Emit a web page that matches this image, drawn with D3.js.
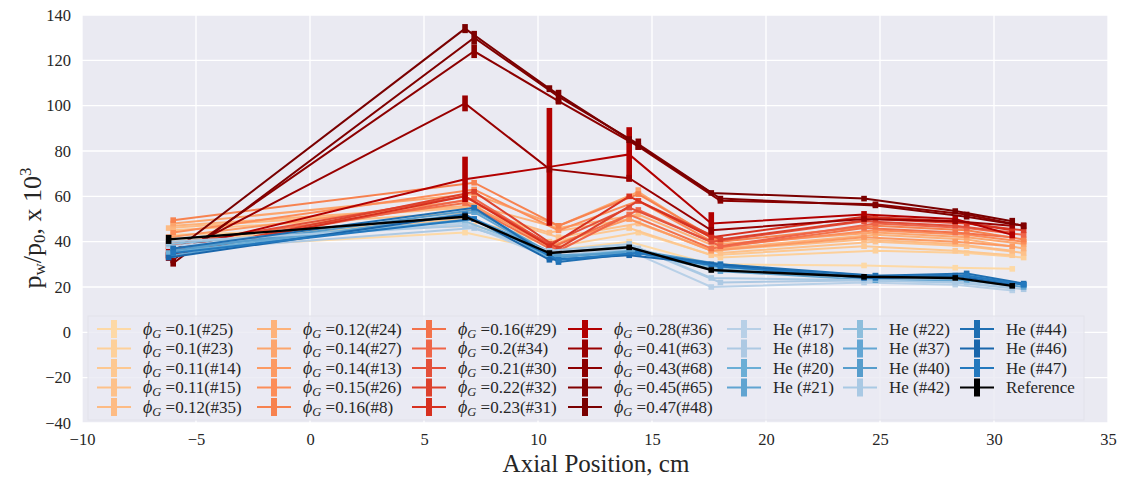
<!DOCTYPE html>
<html>
<head>
<meta charset="utf-8">
<script src="https://cdn.jsdelivr.net/npm/d3@7"></script>
<style>
  body { margin: 0; background: #fff; }
  text { font-family: "Liberation Serif", "DejaVu Serif", serif; fill: #262626; }
</style>
</head>
<body>
<div id="chart"></div>
<script>

// axial positions of the taps (two slightly shifted sets, as in the figure)
var positionsA = [-6.2, 6.8, 10.5, 14.0, 17.6, 24.3, 28.3, 30.8];
var positionsB = [-6.0, 7.2, 10.9, 14.4, 18.0, 24.8, 28.8, 31.3];

var seriesLabels = [
  '0.1(#25)', '0.1(#23)', '0.11(#14)', '0.11(#15)', '0.12(#35)',
  '0.12(#24)', '0.14(#27)', '0.14(#13)', '0.15(#26)', '0.16(#8)',
  '0.16(#29)', '0.2(#34)', '0.21(#30)', '0.22(#32)', '0.23(#31)',
  '0.28(#36)', '0.41(#63)', '0.43(#68)', '0.45(#65)', '0.47(#48)',
  'He (#17)', 'He (#18)', 'He (#20)', 'He (#21)',
  'He (#22)', 'He (#37)', 'He (#40)', 'He (#42)',
  'He (#44)', 'He (#46)', 'He (#47)', 'Reference'
];
var isPhi = [1,1,1,1,1, 1,1,1,1,1, 1,1,1,1,1, 1,1,1,1,1, 0,0,0,0, 0,0,0,0, 0,0,0,0];
var positionSet = [0,1,0,1,0, 1,1,0,1,1, 0,1,0,1,0, 0,0,1,1,0, 0,1,0,1, 0,1,1,0, 1,0,1,0];

var seriesValues = [
  [37, 44, 36, 40, 30, 29.5, 28.5, 28],
  [43, 47, 38, 44, 33, 36, 35, 33],
  [40, 50, 40, 46, 34, 38, 36, 34],
  [45, 53, 42, 48, 35, 40, 38, 35],
  [46, 55, 44, 50, 36, 41, 39, 36],
  [47, 56, 46, 52, 37, 43, 41, 37],
  [48, 61, 47, 62, 39, 44, 42, 39],
  [42, 58, 38, 50, 36, 42, 40, 38],
  [44, 63, 45, 58, 38, 45, 43, 40],
  [49.5, 66, 47, 61, 40, 47, 45, 41],
  [39, 57, 37, 52, 37, 46, 44, 42],
  [36, 59, 36, 54, 38, 48, 46, 43],
  [38, 60, 39, 55, 40, 49, 47, 44],
  [35, 62, 37, 58, 41, 50, 48, 45],
  [34, 60, 38, 60, 42, 51, 49, 45],
  [36, 67.5, 73, 78.5, 48, 52, 50, 43],
  [33, 101, 72, 68, 45, 50, 49, 47],
  [32, 124, 102, 82, 58, 56.5, 52, 47],
  [30.5, 130, 104, 83, 59, 56, 51, 47],
  [34, 134, 107.5, 85, 61.5, 59, 53.5, 49],
  [38, 48, 33, 36, 20, 22, 21, 18.5],
  [36, 46, 34, 37, 22, 23, 22, 19],
  [35, 52, 33, 36, 29, 24, 25, 21],
  [37, 50, 34, 35, 27, 23, 23, 20],
  [39, 49, 35, 38, 28, 24, 24, 21],
  [34, 53, 32, 35, 29, 25, 25, 21],
  [36, 54, 33, 36, 30, 24, 25, 21],
  [40, 47, 36, 39, 24, 23, 22, 19.5],
  [37, 55, 31, 35, 30, 25, 26, 21.5],
  [33, 52, 32, 34, 30, 24, 25, 21],
  [35, 50, 32, 35, 29, 24, 25, 21],
  [41, 51, 35, 37.5, 27.5, 24.5, 24, 20.5]
];

// half-widths of the error bars, most are small
var smallErr = [1, 1, 1, 1, 1, 1, 1, 1];
var seriesErrors = seriesValues.map(function() { return smallErr; });
seriesErrors[15] = [1.5, 10, 26, 12, 5, 1.5, 1.5, 1.5];
seriesErrors[16] = [1.5, 3.5, 1.5, 1.5, 1.5, 1, 1, 1];
seriesErrors[17] = [1.5, 3, 1.5, 1.5, 1, 1, 1, 1];
seriesErrors[18] = [1.5, 3, 3, 2.5, 1, 1, 1, 1.5];
seriesErrors[19] = [1.5, 2, 1.5, 1.5, 1, 1, 1, 1.5];
seriesErrors[6] = [1, 2, 1, 2, 1, 1, 1, 1];
seriesErrors[31] = [2, 1.5, 1, 1, 1, 1, 1, 1];

var seriesColors = [
  '#fdd9a6', '#fdd09a', '#fdc891', '#fdc18a', '#fdbb84',
  '#fdb27a', '#fca56d', '#fc9a63', '#fc8d59', '#f7824f',
  '#f3724b', '#ef6548', '#e4503a', '#dd412c', '#d7301f',
  '#b30000', '#990000', '#8c0000', '#800000', '#7a0000',
  '#b8d0e7', '#adc9e3', '#6aaed6', '#60a4d1',
  '#8dbedc', '#63a6d3', '#569dcc', '#a9c9e4',
  '#1f6fb2', '#1966ab', '#2378bd', '#000000'
];

var xTickValues = [-10, -5, 0, 5, 10, 15, 20, 25, 30, 35];
var yTickValues = [-40, -20, 0, 20, 40, 60, 80, 100, 120, 140];

var W = 1122, H = 477;
var svg = d3.select("#chart").append("svg")
  .attr("width", W).attr("height", H);

var x = d3.scaleLinear().domain([-10, 35]).range([82, 1108]);
var y = d3.scaleLinear().domain([-40, 140]).range([423, 15]);

svg.append("rect")
  .attr("x", x(-10)).attr("y", y(140))
  .attr("width", x(35) - x(-10)).attr("height", y(-40) - y(140))
  .attr("fill", "#eaeaf2");

// grid
svg.append("g").selectAll("line").data(xTickValues).join("line")
  .attr("x1", d => x(d)).attr("x2", d => x(d))
  .attr("y1", y(140)).attr("y2", y(-40))
  .attr("stroke", "#fff").attr("stroke-width", 1.3);
svg.append("g").selectAll("line").data(yTickValues).join("line")
  .attr("x1", x(-10)).attr("x2", x(35))
  .attr("y1", d => y(d)).attr("y2", d => y(d))
  .attr("stroke", "#fff").attr("stroke-width", 1.3);

// axes (no spines, seaborn style)
var xAxis = svg.append("g")
  .attr("transform", "translate(0," + (y(-40) + 4) + ")")
  .call(d3.axisBottom(x).tickValues(xTickValues).tickSize(0).tickFormat(d => d < 0 ? "\u2212" + (-d) : d));
var yAxis = svg.append("g")
  .attr("transform", "translate(" + (x(-10) - 8) + ",0)")
  .call(d3.axisLeft(y).tickValues(yTickValues).tickSize(0).tickFormat(d => d < 0 ? "\u2212" + (-d) : d));
[xAxis, yAxis].forEach(function(a) {
  a.select(".domain").remove();
  a.selectAll("text").attr("font-size", 16.5).attr("fill", "#262626")
    .style("font-family", '"Liberation Serif", serif');
});
xAxis.selectAll("text").attr("dy", "0.9em");

// series
var line = d3.line();
var plot = svg.append("g");
seriesValues.forEach(function(vals, i) {
  var xs = positionSet[i] ? positionsB : positionsA;
  var pts = vals.map((v, j) => [x(xs[j]), y(v)]);
  var g = plot.append("g").attr("class", "series");
  g.append("path")
    .attr("d", line(pts))
    .attr("fill", "none")
    .attr("stroke", seriesColors[i])
    .attr("stroke-width", i == 31 ? 2.4 : 2);
  g.selectAll("rect").data(vals).join("rect")
    .attr("x", (v, j) => x(xs[j]) - 2.8)
    .attr("width", 5.6)
    .attr("y", (v, j) => Math.min(y(v + seriesErrors[i][j]), y(v) - 2.8))
    .attr("height", (v, j) => Math.max(y(v - seriesErrors[i][j]) - y(v + seriesErrors[i][j]), 5.6))
    .attr("fill", seriesColors[i]);
});

// legend
var legend = svg.append("g");
legend.append("rect")
  .attr("x", 88).attr("y", 316).attr("width", 996).attr("height", 104)
  .attr("fill", "#eaeaf2").attr("fill-opacity", 0.8)
  .attr("stroke", "#e2e2ea").attr("stroke-width", 1);

var colHandleX = [97, 257, 412, 568, 727, 843, 960];
var colCounts = [5, 5, 5, 5, 4, 4, 4];
var rowY = [329, 348.5, 368, 387.5, 407];
var k = 0;
colCounts.forEach(function(n, c) {
  for (var r = 0; r < n; r++, k++) {
    var hx = colHandleX[c], hy = rowY[r];
    var lg = legend.append("g");
    lg.append("line")
      .attr("x1", hx).attr("x2", hx + 34).attr("y1", hy).attr("y2", hy)
      .attr("stroke", seriesColors[k]).attr("stroke-width", 2);
    lg.append("rect")
      .attr("x", hx + 17 - 3).attr("y", hy - 9).attr("width", 6).attr("height", 18)
      .attr("fill", seriesColors[k]);
    var t = lg.append("text")
      .attr("x", hx + 46).attr("y", hy + 5.5)
      .attr("font-size", 17);
    if (isPhi[k]) {
      t.append("tspan").attr("font-style", "italic").attr("font-size", 18).text("\u03d5");
      t.append("tspan").attr("font-style", "italic").attr("font-size", 12.5).attr("dy", 3).text("G");
      t.append("tspan").attr("dy", -3).text(" =" + seriesLabels[k]);
    } else {
      t.text(seriesLabels[k]);
    }
  }
});

// axis titles
svg.append("text")
  .attr("x", 596).attr("y", 472)
  .attr("text-anchor", "middle").attr("font-size", 25)
  .text("Axial Position, cm");

var yl = svg.append("text")
  .attr("transform", "translate(41,228) rotate(-90)")
  .attr("text-anchor", "middle").attr("font-size", 26);
yl.append("tspan").text("p");
yl.append("tspan").attr("font-size", 17).attr("dy", 4).text("w");
yl.append("tspan").attr("dy", -4).text("/p");
yl.append("tspan").attr("font-size", 17).attr("dy", 4).text("0");
yl.append("tspan").attr("dy", -4).text(",  x 10");
yl.append("tspan").attr("font-size", 17).attr("dy", -10).text("3");

</script>
</body>
</html>
